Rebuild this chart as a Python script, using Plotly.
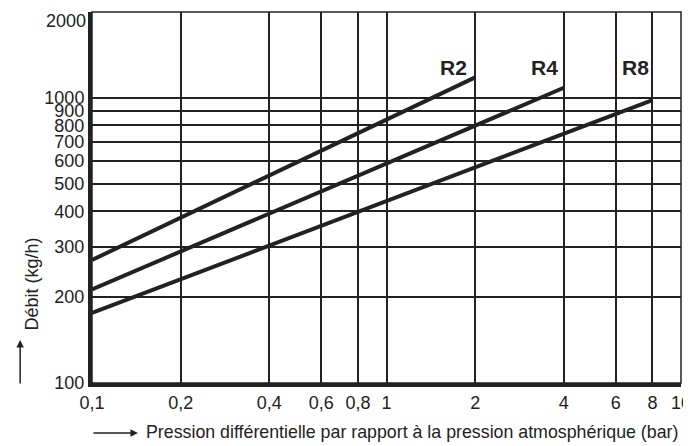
import numpy as np
import plotly.graph_objects as go

# Courbes débit / pression
series = ['R2', 'R4', 'R8']
pression = {'R2': [0.1, 2], 'R4': [0.1, 4], 'R8': [0.1, 8]}
debit = {'R2': [270, 1180], 'R4': [213, 1085], 'R8': [176, 982]}

x_ticks = [0.1, 0.2, 0.4, 0.6, 0.8, 1, 2, 4, 6, 8, 10]
x_labels = ['0,1', '0,2', '0,4', '0,6', '0,8', '1', '2', '4', '6', '8', '10']
y_ticks = [100, 200, 300, 400, 500, 600, 700, 800, 900, 1000, 2000]
y_labels = ['100', '200', '300', '400', '500', '600', '700', '800', '900', '1000', '2000']

ink = '#222222'
police = 'Liberation Sans, Arial, sans-serif'

fig = go.Figure()

for s in series:
    fig.add_trace(go.Scatter(
        x=pression[s], y=debit[s], mode='lines', name=s,
        line=dict(color=ink, width=4), showlegend=False,
    ))

# étiquettes des courbes
for s, dx in zip(series, [-6, -4, -1]):
    fig.add_annotation(
        x=np.log10(pression[s][-1]), y=np.log10(1280), text='<b>' + s + '</b>',
        showarrow=False, xanchor='right', xshift=dx,
        font=dict(family=police, size=21, color=ink),
    )

# la dernière graduation (2000) est posée sous le bord pour ne pas être coupée
y_text = y_labels[:-1] + ['']
fig.add_annotation(
    x=0, xref='paper', y=np.log10(y_ticks[-1]), text=y_labels[-1],
    showarrow=False, xanchor='right', yanchor='top', xshift=-4, yshift=3,
    font=dict(family=police, size=18, color=ink),
)

# titres des axes avec flèches
fig.add_annotation(
    xref='paper', yref='paper', x=-0.122, y=0.135, text='Débit (kg/h)',
    textangle=-90, showarrow=False, yanchor='bottom',
    font=dict(family=police, size=18, color=ink),
)
fig.add_annotation(
    xref='paper', yref='paper', x=-0.122, y=0.116, text='',
    showarrow=True, arrowhead=2, arrowsize=1, arrowwidth=1.5, arrowcolor=ink,
    ax=0, ay=45,
)
fig.add_annotation(
    xref='paper', yref='paper', x=0.088, y=-0.131, xanchor='left', yanchor='middle',
    text='Pression différentielle par rapport à la pression atmosphérique (bar)',
    showarrow=False, font=dict(family=police, size=17.8, color=ink),
)
fig.add_annotation(
    xref='paper', yref='paper', x=0.078, y=-0.135, text='',
    showarrow=True, arrowhead=2, arrowsize=1, arrowwidth=1.5, arrowcolor=ink,
    ax=-46, ay=0,
)

# cadre fin haut / droite
fig.add_shape(type='rect', xref='paper', yref='paper', x0=0, x1=1, y0=0, y1=1,
              line=dict(color=ink, width=1.5), layer='below')

fig.update_xaxes(
    type='log', range=[-1, 1], tickvals=x_ticks, ticktext=x_labels,
    showgrid=True, gridcolor=ink, gridwidth=1.5,
    showline=True, linecolor=ink, linewidth=4, ticks='',
    tickfont=dict(family=police, size=18, color=ink), zeroline=False,
    automargin=False, ticklabeloverflow='allow',
)
fig.update_yaxes(
    type='log', range=[2, np.log10(2000) + 1e-9], tickvals=y_ticks, ticktext=y_text,
    showgrid=True, gridcolor=ink, gridwidth=1.5,
    showline=True, linecolor=ink, linewidth=4, ticks='',
    tickfont=dict(family=police, size=18, color=ink), zeroline=False,
    automargin=False, ticklabeloverflow='allow',
)

# la page ajoute 8 px de marge : figure réduite d'autant
fig.update_layout(
    width=683, height=438,
    margin=dict(l=84, r=10, t=4, b=63),
    plot_bgcolor='white', paper_bgcolor='white',
)

fig.write_html('out.html')
